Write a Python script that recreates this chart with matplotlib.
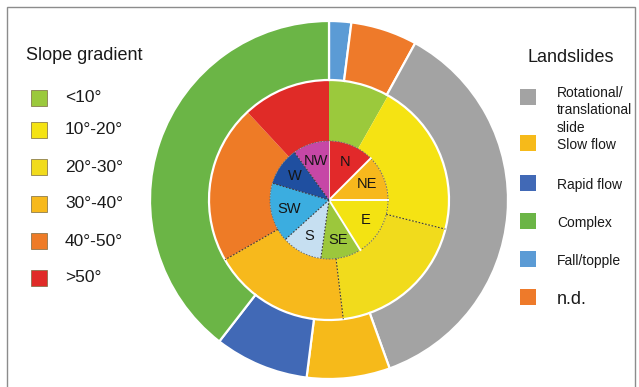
import numpy as np
import matplotlib
matplotlib.use("Agg")
import matplotlib.pyplot as plt
from matplotlib.patches import Rectangle, Circle

plt.rcParams['font.family'] = ['Liberation Sans', 'DejaVu Sans']

# outer ring: landslide types (share of the circle, %)
slide_types = ["Fall/topple", "n.d.", "Rotational/\ntranslational\nslide",
               "Slow flow", "Rapid flow", "Complex"]
slide_share = [2.0, 6.0, 36.5, 7.5, 8.5, 39.5]
slide_colors = ["#5B9BD5", "#EE7A2A", "#A3A3A3", "#F6BA1A", "#4169B6", "#6BB546"]

# middle ring: slope gradient classes
slope_classes = ["<10°", "10°-20°", "20°-30°", "30°-40°", "40°-50°", ">50°"]
slope_share = [8.2, 20.7, 19.2, 18.6, 21.4, 11.9]
slope_colors = ["#9BC93C", "#F5E313", "#F1DB1C", "#F7B91C", "#EE7B26", "#E02B27"]

# inner pie: aspect
aspects = ["N", "NE", "E", "SE", "S", "SW", "W", "NW"]
aspect_share = [12.5, 12.5, 16.1, 11.1, 11.1, 16.3, 10.4, 10.0]
aspect_colors = ["#E2292A", "#F7B81C", "#F3E312", "#9CC73C", "#C6DFF1",
                 "#3BADE0", "#1F4FA0", "#C647A6"]

W, H = 639, 387
fig = plt.figure(figsize=(W / 100, H / 100), dpi=100)
ax = fig.add_axes([0, 0, 1, 1])

cx, cy = 329, H - 200
r_out, r_mid, r_in = 179, 120, 59

ax.pie(slope_share, radius=r_mid, center=(cx, cy), startangle=90, counterclock=False,
       colors=slope_colors, wedgeprops=dict(width=r_mid - r_in, linewidth=0))
inner, _ = ax.pie(aspect_share, radius=r_in, center=(cx, cy), startangle=90, counterclock=False,
                  colors=aspect_colors, wedgeprops=dict(linewidth=0))
ax.pie(slide_share, radius=r_out, center=(cx, cy), startangle=90, counterclock=False,
       colors=slide_colors, wedgeprops=dict(width=r_out - r_mid, edgecolor="white", linewidth=1.6))


def boundaries(shares):
    c = np.cumsum(shares) / np.sum(shares)
    return np.deg2rad(90 - 360 * c)


dots = dict(color="#3A3A3A", linewidth=0.8, linestyle=(0, (1.5, 1.5)))

# middle ring separators
for k, a in enumerate(boundaries(slope_share)):
    if k in (1, 2, 3):
        ax.plot([cx + r_in * np.cos(a), cx + r_mid * np.cos(a)],
                [cy + r_in * np.sin(a), cy + r_mid * np.sin(a)], **dots)

# inner pie separators
for k, a in enumerate(boundaries(aspect_share)):
    xs = [cx, cx + r_in * np.cos(a)]
    ys = [cy, cy + r_in * np.sin(a)]
    if k in (0, 1, 2):
        ax.plot(xs, ys, color="white", linewidth=1.4)
    elif k == 7:
        ax.plot(xs, ys, color="#E8E8E8", linewidth=0.6)
    else:
        ax.plot(xs, ys, **dots)
ax.add_patch(Circle((cx, cy), r_in, fill=False, edgecolor="#6A6A6A", linewidth=0.7,
                    linestyle=(0, (1.5, 1.5))))

for w, name in zip(inner, aspects):
    mid = np.deg2rad((w.theta1 + w.theta2) / 2)
    ax.text(cx + 0.7 * r_in * np.cos(mid), cy + 0.7 * r_in * np.sin(mid), name,
            ha="center", va="center", fontsize=10.5, color="#151515")

ax.set_xlim(0, W)
ax.set_ylim(0, H)
ax.set_aspect("equal")
ax.axis("off")

# frame
ax.add_patch(Rectangle((7, -5), 628, H - 7 + 5, fill=False, edgecolor="#8C8C8C", linewidth=1.0))

# left legend
ax.text(26, H - 56, "Slope gradient", fontsize=13, ha="left", va="center", color="#1A1A1A")
left_y = [98, 130, 167, 204, 241, 278]
for y, lab, col in zip(left_y, slope_classes, slope_colors):
    ax.add_patch(Rectangle((31, H - y - 8), 16, 16, facecolor=col, edgecolor="#7A6A40", linewidth=0.5))
    ax.text(65, H - y, lab, fontsize=12.5, ha="left", va="center", color="#1A1A1A")

# right legend
ax.text(571, H - 57, "Landslides", fontsize=13, ha="center", va="center", color="#1A1A1A")
right_order = [2, 3, 4, 5, 0, 1]
right_y = [97, 143, 183, 221, 259, 297]
for y, i in zip(right_y, right_order):
    ax.add_patch(Rectangle((520, H - y - 8), 16, 16, facecolor=slide_colors[i], edgecolor="none"))
    size = 13 if slide_types[i] == "n.d." else 10
    if "\n" in slide_types[i]:
        ax.text(557, H - 86, slide_types[i], fontsize=size, ha="left", va="top",
                linespacing=1.3, color="#1A1A1A")
    else:
        ax.text(557, H - y - 2, slide_types[i], fontsize=size, ha="left", va="center", color="#1A1A1A")

fig.savefig("out.png", dpi=100)
